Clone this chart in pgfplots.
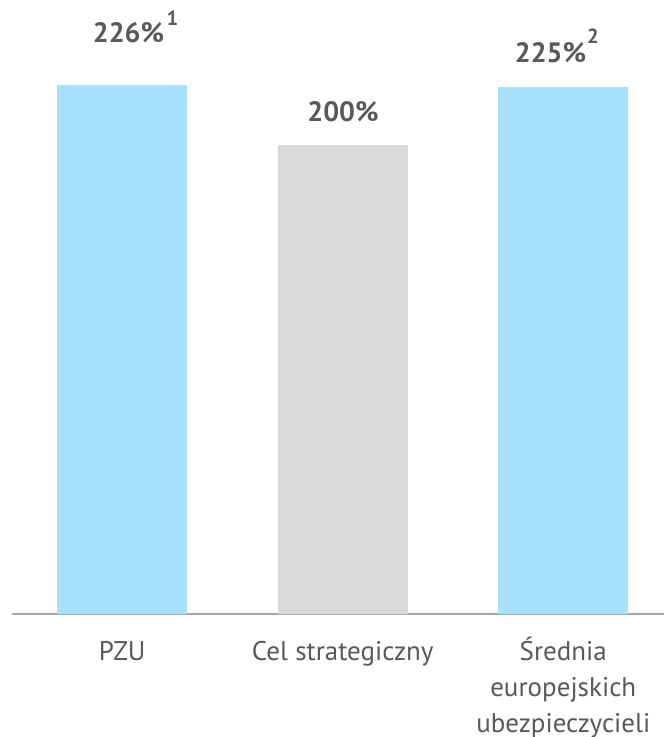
\documentclass[border=0pt]{standalone}
\usepackage{pgfplots}
\pgfplotsset{compat=1.18}
\usepackage{fontspec}
\setmainfont{PT Sans}

\definecolor{barblue}{HTML}{A8E0FF}
\definecolor{bargray}{HTML}{D9D9D9}
\definecolor{txtgray}{HTML}{595959}
\definecolor{linegray}{HTML}{A6A6A6}

\newcommand{\catfont}{\fontsize{27bp}{36bp}\selectfont}
\newcommand{\valfont}{\fontsize{28bp}{30bp}\selectfont\bfseries}
\newcommand{\supfont}{\fontsize{20.5bp}{21bp}\selectfont\bfseries}

\begin{document}
\begin{tikzpicture}
  \path[use as bounding box] (0,0) rectangle (664bp,737bp);
  \begin{axis}[
      at={(12bp,123bp)}, anchor=south west,
      scale only axis,
      width=652bp, height=614bp,
      xmin=-0.5, xmax=2.457,
      ymin=0, ymax=262.1,
      ybar, bar width=0.59, bar shift=0pt,
      hide y axis,
      axis x line=bottom,
      axis line style={draw=linegray, line width=1.75bp, -},
      xtick={0,1,2},
      xticklabels={PZU, Cel strategiczny,
        {\begin{tabular}[t]{@{}c@{}}Średnia\\europejskich\\ubezpieczycieli\end{tabular}}},
      major tick length=0pt,
      xticklabel style={font=\catfont, text=txtgray, anchor=base,
        inner sep=0pt, yshift=-46bp},
      clip=false,
    ]
    \addplot[fill=barblue, draw=none] coordinates {(0,226)};
    \addplot[fill=bargray, draw=none] coordinates {(1,200)};
    \addplot[fill=barblue, draw=none] coordinates {(2,225)};

    \node[font=\valfont, text=txtgray, inner sep=0pt, anchor=base west]
      at (axis cs:0,226) [xshift=-29.5bp, yshift=42.5bp]
      {226\%\hspace{2.5bp}\raisebox{17bp}{\supfont 1}};
    \node[font=\valfont, text=txtgray, inner sep=0pt, anchor=base]
      at (axis cs:1,200) [xshift=0.25bp, yshift=24.4bp] {200\%};
    \node[font=\valfont, text=txtgray, inner sep=0pt, anchor=base west]
      at (axis cs:2,225) [xshift=-48.5bp, yshift=24.8bp]
      {225\%\hspace{1bp}\raisebox{19bp}{\supfont 2}};
  \end{axis}
\end{tikzpicture}
\end{document}
